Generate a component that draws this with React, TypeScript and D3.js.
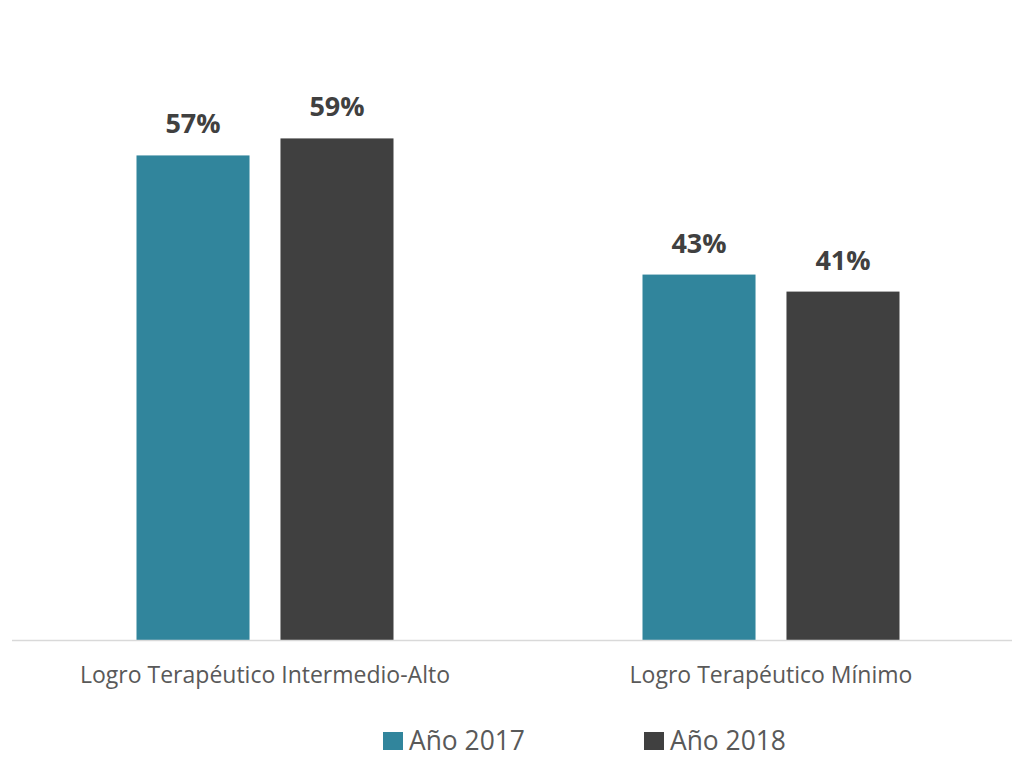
import React from "react";
import * as d3 from "d3";

const categories = ["Logro Terapéutico Intermedio-Alto", "Logro Terapéutico Mínimo"];
const series = ["Año 2017", "Año 2018"];
const values2017 = [0.57, 0.43];
const values2018 = [0.59, 0.41];
const colors = ["#31859C", "#404040"];

const W = 1012;
const H = 758;
const baseline = 640.5;

export default function App() {
  const x0 = d3.scaleBand<string>().domain(categories).range([12, 1024]);
  const y = d3.scaleLinear().domain([0, 0.7]).range([baseline, baseline - 0.7 * 851]);
  const groupW = 257;
  const valuesBySeries = [values2017, values2018];
  const fmt = d3.format(".0%");
  const font = "'Open Sans', sans-serif";

  return (
    <svg width={W} height={H} style={{ position: "absolute", left: 0, top: 0 }} fontFamily={font}>
      <rect width={W} height={H} fill="#fff" />
      {categories.map((c, ci) => {
        const cx = (x0(c) as number) + x0.bandwidth() / 2;
        const x1 = d3.scaleBand<string>().domain(series).range([cx - groupW / 2, cx + groupW / 2]).paddingInner(0.215);
        return (
          <g key={c}>
            {series.map((s, si) => {
              const v = valuesBySeries[si][ci];
              const bx = x1(s) as number;
              return (
                <g key={s}>
                  <rect x={bx} y={y(v)} width={x1.bandwidth()} height={baseline - y(v)} fill={colors[si]} />
                  <text x={bx + x1.bandwidth() / 2} y={y(v) - 22} textAnchor="middle" fontSize={27} fontWeight={700} fill="#404040">
                    {fmt(v)}
                  </text>
                </g>
              );
            })}
            <text x={cx} y={683} textAnchor="middle" fontSize={23} fill="#595959">{c}</text>
          </g>
        );
      })}
      <line x1={12} x2={1012} y1={baseline} y2={baseline} stroke="#D9D9D9" strokeWidth={1.5} />
      {series.map((s, si) => {
        const lx = [383, 644][si];
        return (
          <g key={s}>
            <rect x={lx} y={732} width={20} height={18} fill={colors[si]} />
            <text x={lx + 26} y={750} fontSize={26.4} fill="#595959">{s}</text>
          </g>
        );
      })}
    </svg>
  );
}
